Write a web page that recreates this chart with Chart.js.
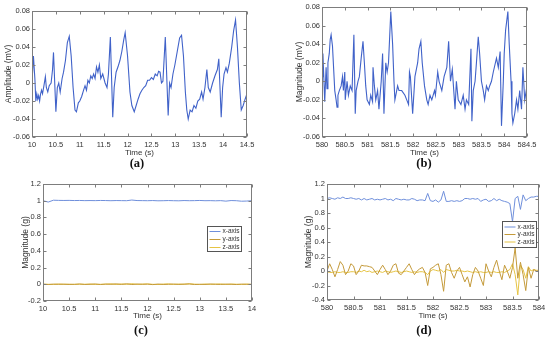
<!DOCTYPE html>
<html>
<head>
<meta charset="utf-8">
<script src="https://cdn.jsdelivr.net/npm/chart.js@4.4.1/dist/chart.umd.min.js"></script>
<style>
  body { margin: 0; width: 550px; height: 337px; background: #fff; position: relative; overflow: hidden; }
  .panel { position: absolute; }
  .tag { position: absolute; font: bold 12.5px "Liberation Serif", "DejaVu Serif", serif; color: #111; transform: translate(-50%, -50%); }
</style>
</head>
<body>
<div class="panel" style="left:0;top:0"><canvas id="chart-a" width="262" height="160"></canvas></div>
<div class="panel" style="left:275px;top:0"><canvas id="chart-b" width="268" height="160"></canvas></div>
<div class="panel" style="left:0;top:168px"><canvas id="chart-c" width="268" height="155"></canvas></div>
<div class="panel" style="left:275px;top:168px"><canvas id="chart-d" width="275" height="155"></canvas></div>
<div class="tag" style="left:137px;top:163px">(a)</div>
<div class="tag" style="left:424px;top:163px">(b)</div>
<div class="tag" style="left:141px;top:330px">(c)</div>
<div class="tag" style="left:424px;top:330px">(d)</div>

<script>
// --- (a) ECG, 10 - 14.5 s ---
const timeA = [
  10.00, 10.03, 10.06, 10.08, 10.10, 10.12, 10.14, 10.16, 10.18, 10.20,
  10.22, 10.25, 10.28, 10.30, 10.33, 10.36, 10.40, 10.43, 10.45, 10.50,
  10.53, 10.56, 10.59, 10.63, 10.66, 10.70, 10.74, 10.78, 10.82, 10.86,
  10.90, 10.93, 10.97, 11.00, 11.04, 11.08, 11.11, 11.14, 11.17, 11.20,
  11.23, 11.26, 11.29, 11.32, 11.35, 11.38, 11.41, 11.44, 11.48, 11.53,
  11.57, 11.60, 11.64, 11.69, 11.72, 11.76, 11.80, 11.84, 11.88, 11.92,
  11.95, 12.00, 12.05, 12.09, 12.14, 12.18, 12.22, 12.26, 12.30, 12.34,
  12.38, 12.42, 12.46, 12.50, 12.54, 12.58, 12.62, 12.65, 12.68, 12.71,
  12.74, 12.79, 12.85, 12.88, 12.91, 12.95, 12.99, 13.04, 13.09, 13.13,
  13.17, 13.21, 13.24, 13.27, 13.31, 13.35, 13.39, 13.43, 13.47, 13.51,
  13.55, 13.58, 13.62, 13.66, 13.69, 13.73, 13.78, 13.83, 13.88, 13.91,
  13.96, 13.99, 14.02, 14.06, 14.09, 14.13, 14.18, 14.22, 14.26, 14.30,
  14.34, 14.38, 14.42, 14.46, 14.50
];
const ampA = [
  0.000, 0.030, 0.005, -0.020, -0.012, -0.018, -0.014, -0.020, -0.012, -0.008,
  -0.012, -0.003, 0.007, -0.005, -0.010, -0.003, 0.000, 0.015, 0.034, -0.032,
  -0.005, 0.000, -0.010, 0.005, 0.012, 0.025, 0.045, 0.052, 0.030, -0.005,
  -0.030, -0.032, -0.022, -0.020, -0.015, -0.008, -0.003, -0.008, 0.003, 0.000,
  0.008, 0.005, 0.010, 0.005, 0.018, 0.012, 0.020, 0.005, 0.010, 0.000,
  -0.005, 0.010, 0.051, -0.038, -0.005, 0.012, 0.018, 0.025, 0.035, 0.048,
  0.056, 0.030, -0.010, -0.025, -0.032, -0.025, -0.018, -0.012, -0.008, -0.005,
  -0.003, 0.003, 0.003, 0.006, 0.004, 0.010, 0.008, 0.013, 0.012, 0.000,
  0.002, 0.051, -0.036, 0.000, -0.005, 0.010, 0.020, 0.035, 0.050, 0.053,
  0.030, -0.010, -0.030, -0.040, -0.030, -0.032, -0.025, -0.028, -0.020, -0.018,
  -0.010, -0.018, -0.005, 0.015, -0.005, -0.010, 0.000, 0.008, 0.015, 0.027,
  -0.038, -0.005, 0.010, 0.017, 0.012, 0.022, 0.040, 0.058, 0.070, 0.040,
  0.000, -0.030, -0.025, -0.018, -0.012
];

// --- (b) ECG, 580 - 584.5 s ---
const timeB = [
  580.00, 580.02, 580.06, 580.09, 580.11, 580.13, 580.16, 580.18, 580.20, 580.23,
  580.28, 580.31, 580.33, 580.35, 580.38, 580.42, 580.45, 580.47, 580.50, 580.51,
  580.55, 580.58, 580.62, 580.66, 580.70, 580.73, 580.75, 580.79, 580.82, 580.86,
  580.90, 580.93, 580.96, 580.99, 581.04, 581.07, 581.11, 581.12, 581.15, 581.18,
  581.22, 581.25, 581.30, 581.33, 581.36, 581.40, 581.43, 581.46, 581.51, 581.55,
  581.58, 581.60, 581.66, 581.69, 581.75, 581.82, 581.86, 581.90, 581.92, 581.94,
  581.99, 582.04, 582.10, 582.13, 582.17, 582.20, 582.25, 582.30, 582.33, 582.37,
  582.41, 582.47, 582.49, 582.54, 582.57, 582.63, 582.68, 582.74, 582.78, 582.82,
  582.86, 582.92, 582.95, 582.99, 583.05, 583.10, 583.14, 583.17, 583.22, 583.27,
  583.29, 583.32, 583.36, 583.39, 583.43, 583.46, 583.50, 583.54, 583.57, 583.61,
  583.65, 583.68, 583.72, 583.76, 583.83, 583.87, 583.91, 583.94, 583.98, 584.00,
  584.03, 584.08, 584.11, 584.15, 584.17, 584.19, 584.23, 584.27, 584.30, 584.34,
  584.38, 584.41, 584.45, 584.50
];
const magB = [
  0.005, 0.030, -0.022, 0.015, -0.008, 0.020, 0.030, 0.045, 0.050, 0.038,
  -0.010, -0.020, -0.028, -0.015, -0.010, -0.005, 0.005, -0.010, 0.010, -0.020,
  0.000, -0.015, -0.005, -0.010, 0.050, -0.035, -0.010, 0.000, 0.005, 0.025,
  0.043, 0.020, -0.005, -0.020, -0.025, -0.015, -0.022, 0.015, -0.005, -0.020,
  -0.010, -0.030, 0.000, 0.030, -0.035, 0.020, 0.010, 0.020, 0.075, 0.040,
  0.000, -0.020, -0.005, -0.010, -0.010, -0.015, -0.020, -0.025, 0.010, 0.005,
  -0.035, 0.005, 0.020, 0.035, 0.043, 0.020, -0.005, -0.020, -0.025, -0.015,
  -0.020, -0.010, -0.015, 0.010, 0.000, -0.010, 0.005, 0.015, 0.043, 0.000,
  0.013, -0.030, 0.000, -0.020, -0.025, -0.015, -0.030, -0.020, -0.025, 0.035,
  -0.043, -0.010, 0.000, 0.020, 0.048, 0.030, 0.000, -0.010, -0.020, -0.005,
  -0.010, -0.005, 0.000, 0.010, 0.025, 0.015, 0.032, -0.048, 0.000, 0.030,
  0.055, 0.075, 0.040, 0.000, -0.035, -0.045, -0.035, -0.020, -0.030, -0.010,
  -0.030, 0.015, -0.020, -0.005
];

// --- (c) accelerometer, 10 - 14 s ---
const timeC = [
  10.0, 10.1, 10.2, 10.3, 10.4, 10.5, 10.6, 10.7, 10.8, 10.9,
  11.0, 11.1, 11.2, 11.3, 11.4, 11.5, 11.6, 11.7, 11.8, 11.9,
  12.0, 12.1, 12.2, 12.3, 12.4, 12.5, 12.6, 12.7, 12.8, 12.9,
  13.0, 13.1, 13.2, 13.3, 13.4, 13.5, 13.6, 13.7, 13.8, 13.9, 14.0
];
const accXC = [
  1.000, 0.984, 1.006, 1.004, 1.003, 1.004, 1.002, 1.003, 1.001, 1.002,
  1.001, 1.003, 1.002, 1.000, 1.002, 1.001, 1.000, 1.008, 1.002, 1.001,
  1.000, 1.002, 0.999, 1.000, 1.002, 1.000, 0.999, 1.002, 1.000, 1.001,
  1.003, 1.000, 1.001, 0.999, 1.001, 0.995, 1.002, 1.000, 0.994, 0.996, 1.000
];
const accYC = [
  0.000, -0.003, 0.002, 0.000, 0.001, -0.002, 0.000, 0.003, -0.002, 0.000,
  0.004, -0.003, 0.002, 0.000, 0.005, -0.002, 0.006, -0.003, 0.003, 0.000,
  0.002, -0.004, 0.003, -0.002, 0.000, 0.003, -0.002, 0.002, 0.004, -0.003,
  0.000, -0.002, 0.003, 0.000, -0.002, 0.002, 0.000, -0.003, 0.002, 0.000, -0.002
];
const accZC = [
  0.002, 0.000, -0.002, 0.003, 0.000, 0.001, -0.002, 0.002, 0.000, 0.003,
  -0.002, 0.000, 0.002, 0.005, -0.002, 0.004, 0.000, 0.007, -0.001, 0.002,
  0.004, 0.000, -0.003, 0.002, 0.005, -0.002, 0.003, 0.000, 0.006, 0.002,
  -0.002, 0.003, 0.000, 0.002, 0.004, -0.002, 0.003, 0.001, -0.002, 0.002, 0.000
];

// --- (d) accelerometer, 580 - 584 s ---
const timeD = [
  580.00, 580.05, 580.10, 580.15, 580.20, 580.25, 580.30, 580.35, 580.40, 580.45,
  580.50, 580.55, 580.60, 580.65, 580.70, 580.75, 580.80, 580.85, 580.90, 580.95,
  581.00, 581.05, 581.10, 581.15, 581.20, 581.25, 581.30, 581.35, 581.40, 581.45,
  581.50, 581.55, 581.60, 581.65, 581.70, 581.75, 581.80, 581.85, 581.90, 581.95,
  582.00, 582.05, 582.10, 582.15, 582.20, 582.25, 582.30, 582.35, 582.40, 582.45,
  582.50, 582.55, 582.60, 582.65, 582.70, 582.75, 582.80, 582.85, 582.90, 582.95,
  583.00, 583.05, 583.10, 583.15, 583.20, 583.25, 583.30, 583.35, 583.40, 583.45,
  583.50, 583.55, 583.60, 583.65, 583.70, 583.75, 583.80, 583.85, 583.90, 583.95, 584.00
];
const accXD = [
  1.00, 1.01, 1.00, 0.99, 1.01, 1.00, 1.02, 1.00, 1.00, 1.01,
  1.00, 0.99, 1.00, 0.98, 1.00, 0.98, 0.99, 1.00, 0.98, 0.99,
  0.98, 0.99, 1.00, 0.98, 0.99, 0.97, 1.00, 0.99, 0.98, 0.99,
  0.98, 0.98, 1.00, 0.99, 0.97, 0.98, 0.98, 0.97, 1.07, 0.97,
  0.96, 0.98, 0.95, 0.98, 1.10, 0.96, 0.96, 0.97, 0.96, 0.97,
  0.96, 0.97, 1.00, 1.00, 0.99, 1.00, 0.99, 1.00, 0.96, 0.98,
  0.99, 0.96, 0.97, 1.00, 0.97, 0.99, 0.97, 0.96, 0.95, 0.93,
  0.68, 1.00, 1.03, 0.85, 1.05, 0.97, 1.00, 1.02, 1.02, 1.03, 1.03
];
const accYD = [
  0.00, 0.10, 0.02, -0.08, 0.02, 0.13, 0.08, -0.05, 0.00, 0.10,
  0.07, -0.05, 0.00, 0.08, 0.07, 0.07, 0.06, 0.05, 0.00, -0.05,
  0.02, 0.08, 0.02, -0.05, 0.00, 0.08, 0.10, -0.03, -0.05, 0.00,
  0.05, 0.10, 0.02, -0.05, 0.00, 0.03, 0.05, -0.02, -0.20, 0.03,
  0.05, 0.08, 0.10, -0.05, -0.28, 0.08, 0.10, -0.02, -0.10, 0.00,
  0.05, -0.05, -0.15, -0.08, -0.22, -0.05, 0.05, 0.00, -0.10, -0.20,
  0.10, 0.00, -0.08, 0.05, 0.15, 0.00, -0.12, 0.08, 0.00, -0.10,
  0.05, 0.32, -0.10, 0.12, -0.05, -0.27, 0.05, -0.10, 0.02, 0.00, 0.00
];
const accZD = [
  -0.01, -0.02, -0.02, -0.01, -0.02, -0.02, -0.01, -0.02, -0.02, -0.01,
  -0.01, -0.02, 0.00, -0.01, 0.01, -0.01, 0.00, -0.02, -0.01, 0.00,
  -0.01, -0.02, 0.00, -0.01, -0.02, -0.01, 0.00, -0.01, -0.02, -0.01,
  0.00, -0.01, -0.02, -0.01, -0.02, -0.01, -0.01, -0.02, -0.05, 0.00,
  0.02, 0.01, 0.00, 0.02, -0.02, 0.02, 0.01, 0.00, 0.00, 0.01,
  0.00, 0.00, -0.01, 0.00, -0.01, -0.02, -0.01, -0.02, -0.01, -0.02,
  -0.02, -0.01, -0.02, -0.01, -0.02, -0.02, -0.01, -0.02, 0.00, 0.02,
  0.10, -0.05, -0.33, 0.08, 0.02, -0.10, 0.06, 0.00, 0.02, 0.01, 0.01
];

const axisLabels = ['x-axis', 'y-axis', 'z-axis'];
const ECG_COLOR = '#4062c9';
const ACC_COLORS = ['#6f8fdb', '#c49a3a', '#e6c444'];
const TEXT = '#333';
const FONT = 'Liberation Sans';

const toPoints = (t, v) => t.map((x, i) => ({ x, y: v[i] }));
const fmt = v => String(Number(v.toFixed(2)));

/** Caixa estilo MATLAB: moldura, ticks para dentro e legenda opcional */
const boxPlugin = {
  id: 'boxAxes',
  afterDraw(chart, args, opts) {
    const { ctx, chartArea: a, scales } = chart;
    const L = Math.round(a.left) + 0.5, R = Math.round(a.right) - 0.5;
    const T = Math.round(a.top) + 0.5, B = Math.round(a.bottom) - 0.5;
    ctx.save();
    ctx.strokeStyle = '#7d7d7d';
    ctx.lineWidth = 1;
    ctx.strokeRect(L, T, R - L, B - T);
    ctx.beginPath();
    scales.x.ticks.forEach(t => {
      const px = Math.round(scales.x.getPixelForValue(t.value)) + 0.5;
      ctx.moveTo(px, B); ctx.lineTo(px, B - 3);
      ctx.moveTo(px, T); ctx.lineTo(px, T + 3);
    });
    scales.y.ticks.forEach(t => {
      const py = Math.round(scales.y.getPixelForValue(t.value)) + 0.5;
      ctx.moveTo(L, py); ctx.lineTo(L + 3, py);
      ctx.moveTo(R, py); ctx.lineTo(R - 3, py);
    });
    ctx.stroke();

    if (opts.legend) {
      const lg = opts.legend;
      const x0 = Math.round(a.right - lg.right - lg.w) + 0.5;
      const y0 = Math.round(a.top + lg.top) + 0.5;
      ctx.fillStyle = '#fff';
      ctx.fillRect(x0, y0, lg.w, lg.h);
      ctx.strokeStyle = '#555';
      ctx.strokeRect(x0, y0, lg.w, lg.h);
      ctx.font = '6.5px "' + FONT + '"';
      ctx.textBaseline = 'middle';
      chart.data.datasets.forEach((ds, i) => {
        const y = y0 + lg.first + i * lg.row;
        ctx.strokeStyle = ds.borderColor;
        ctx.beginPath();
        ctx.moveTo(x0 + 2, y); ctx.lineTo(x0 + 13, y);
        ctx.stroke();
        ctx.fillStyle = TEXT;
        ctx.fillText(ds.label, x0 + 15, y);
      });
    }
    ctx.restore();
  }
};

function scalesFor(g) {
  return {
    x: {
      type: 'linear', min: g.x[0], max: g.x[1],
      grid: { display: false, drawTicks: false, tickLength: 0 }, border: { display: false },
      ticks: { stepSize: g.x[2], autoSkip: false, maxRotation: 0, padding: 3, color: TEXT, font: { family: FONT, size: 7.5 }, callback: fmt },
      title: { display: true, text: 'Time (s)', color: TEXT, font: { family: FONT, size: 8 }, padding: { top: 0, bottom: g.xTitle } },
      afterFit: s => { s.height = g.xh; }
    },
    y: {
      type: 'linear', min: g.y[0], max: g.y[1],
      grid: { display: false, drawTicks: false, tickLength: 0 }, border: { display: false },
      ticks: { stepSize: g.y[2], autoSkip: false, padding: 2, color: TEXT, font: { family: FONT, size: 7.5 }, callback: fmt },
      title: { display: true, text: g.yLabel, color: TEXT, font: { family: FONT, size: 8.5 }, padding: { top: g.yTitle, bottom: 0 } },
      afterFit: s => { s.width = g.yw; }
    }
  };
}

function makeChart(id, datasets, g, legend) {
  return new Chart(document.getElementById(id), {
    type: 'line',
    data: { datasets },
    options: {
      responsive: false,
      animation: false,
      devicePixelRatio: 1,
      events: [],
      layout: { padding: { left: 0, top: g.top, right: g.right, bottom: 0 } },
      elements: { point: { radius: 0 }, line: { tension: 0, borderWidth: 1 } },
      scales: scalesFor(g),
      plugins: { legend: { display: false }, tooltip: { enabled: false }, boxAxes: { legend } }
    },
    plugins: [boxPlugin]
  });
}

const accSets = (t, xs, ys, zs) => [xs, ys, zs].map((v, i) => ({
  label: axisLabels[i], data: toPoints(t, v), borderColor: ACC_COLORS[i], borderWidth: 1, fill: false
}));

makeChart('chart-a',
  [{ label: 'ECG', data: toPoints(timeA, ampA), borderColor: ECG_COLOR, borderWidth: 1.1, fill: false }],
  { x: [10, 14.5, 0.5], y: [-0.06, 0.08, 0.02], yLabel: 'Amplitude (mV)', yw: 32, xh: 23, top: 11, right: 15, yTitle: 3.6, xTitle: 2 });

makeChart('chart-b',
  [{ label: 'ECG', data: toPoints(timeB, magB), borderColor: ECG_COLOR, borderWidth: 1.1, fill: false }],
  { x: [580, 584.5, 0.5], y: [-0.06, 0.08, 0.02], yLabel: 'Magnitude (mV)', yw: 47, xh: 23, top: 7, right: 16, yTitle: 19.6, xTitle: 2.6 });

makeChart('chart-c', accSets(timeC, accXC, accYC, accZC),
  { x: [10, 14, 0.5], y: [-0.2, 1.2, 0.2], yLabel: 'Magnitude (g)', yw: 43, xh: 22, top: 16, right: 16, yTitle: 20.6, xTitle: 2.6 },
  { right: 11, top: 42, w: 34, h: 25, first: 5, row: 8 });

makeChart('chart-d', accSets(timeD, accXD, accYD, accZD),
  { x: [580, 584, 0.5], y: [-0.4, 1.2, 0.2], yLabel: 'Magnitude (g)', yw: 52, xh: 23, top: 16, right: 11, yTitle: 28.6, xTitle: 2.6 },
  { right: 3, top: 37, w: 34, h: 26, first: 5.5, row: 7.5 });
</script>
</body>
</html>
